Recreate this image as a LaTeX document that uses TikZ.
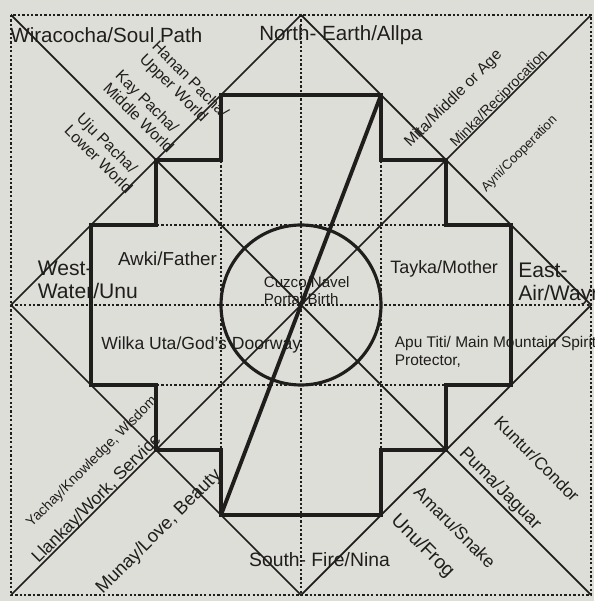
\documentclass[tikz,border=0pt]{standalone}
\usepackage{fontspec}
\setmainfont{Liberation Sans}
\definecolor{paper}{RGB}{222,222,217}
\definecolor{ink}{RGB}{32,30,28}

\begin{document}
\begin{tikzpicture}[
  dots/.style={draw=ink, line width=1.1pt, dash pattern=on 1.3pt off 1.2pt},
  fine/.style={draw=ink, line width=1.0pt},
  heavy/.style={draw=ink, line width=2.2pt, line join=miter},
  lbl/.style={text=ink, inner sep=0pt, align=left}]

\fill[paper] (-6.02,-5.92) rectangle (5.86,6.10);
\useasboundingbox (-6.02,-5.92) rectangle (5.86,6.10);

% ---- frame, diamond and the lines through the centre ---------------------------
\coordinate (nw) at (-5.8,5.8);
\coordinate (ne) at (5.8,5.8);
\coordinate (se) at (5.8,-5.8);
\coordinate (sw) at (-5.8,-5.8);
\coordinate (n) at (0,5.8);
\coordinate (s) at (0,-5.8);
\coordinate (w) at (-5.8,0);
\coordinate (e) at (5.8,0);
\coordinate (o) at (0,0);

\draw[dots] (nw) rectangle (se);
\draw[dots] (n) -- (s);
\draw[dots] (w) -- (e);
\draw[fine] (nw) -- (se);
\draw[fine] (ne) -- (sw);
\draw[fine] (n) -- (e) -- (s) -- (w) -- cycle;

% ---- the stepped cross ----------------------------------------------------------
\draw[dots] (-1.6,4.2) -- (-1.6,-4.2);
\draw[dots] (1.6,4.2) -- (1.6,-4.2);
\draw[dots] (-4.2,1.6) -- (4.2,1.6);
\draw[dots] (-4.2,-1.6) -- (4.2,-1.6);

\draw[heavy] (-1.6,4.2) -- (1.6,4.2) -- (1.6,2.9) -- (2.9,2.9) -- (2.9,1.6)
  -- (4.2,1.6) -- (4.2,-1.6) -- (2.9,-1.6) -- (2.9,-2.9) -- (1.6,-2.9)
  -- (1.6,-4.2) -- (-1.6,-4.2) -- (-1.6,-2.9) -- (-2.9,-2.9) -- (-2.9,-1.6)
  -- (-4.2,-1.6) -- (-4.2,1.6) -- (-2.9,1.6) -- (-2.9,2.9) -- (-1.6,2.9) -- cycle;

\coordinate (toptip) at (1.6,4.2);
\coordinate (bottip) at (-1.6,-4.2);
\draw[heavy, line width=1.8pt] (o) circle (1.6);
\draw[heavy] (toptip) -- (bottip);

% ---- the four directions --------------------------------------------------------
\node[lbl, anchor=west, font=\fontsize{11.7}{13}\selectfont] (wiracocha) at (-5.82,5.4) {Wiracocha/Soul Path};
\node[lbl, font=\fontsize{11.7}{13}\selectfont] (north) at (0.8,5.4) {North- Earth/Allpa};
\node[lbl, anchor=west, font=\fontsize{12}{13}\selectfont] (west) at (-5.27,0.5) {West-\\Water/Unu};
\node[lbl, anchor=west, font=\fontsize{12}{13}\selectfont] (east) at (4.34,0.42) {East-\\Air/Wayra};
\node[lbl, font=\fontsize{11}{12}\selectfont] (south) at (0.37,-5.1) {South- Fire/Nina};

% ---- inside the cross -----------------------------------------------------------
\node[lbl, font=\fontsize{10.7}{12}\selectfont] (awki) at (-2.67,0.93) {Awki/Father};
\node[lbl, anchor=west, font=\fontsize{10}{11}\selectfont] (wilka) at (-4.0,-0.8) {Wilka Uta/God's Doorway};
\node[lbl, anchor=west, font=\fontsize{10.2}{11}\selectfont] (tayka) at (1.78,0.72) {Tayka/Mother};
\node[lbl, anchor=west, font=\fontsize{8.8}{10.2}\selectfont] (apu) at (1.87,-0.93) {Apu Titi/ Main Mountain Spirit\\Protector,};
\node[lbl, anchor=west, font=\fontsize{8.6}{9.6}\selectfont] (cuzco) at (-0.75,0.28) {Cuzco/Navel\\Portal/Birth};

% ---- corner labels --------------------------------------------------------------
\node[lbl, rotate=-45, font=\fontsize{9}{10}\selectfont] (hanan) at (-2.35,4.37) {Hanan Pacha/\\Upper World};
\node[lbl, rotate=-45, font=\fontsize{9}{10}\selectfont] (kay) at (-3.12,3.87) {Kay Pacha/\\Middle World};
\node[lbl, rotate=-45, font=\fontsize{9}{10}\selectfont] (uju) at (-3.92,3.04) {Uju Pacha/\\Lower World};

\node[lbl, rotate=45, font=\fontsize{8.9}{10}\selectfont] (mita) at (3.05,4.12) {Mita/Middle or Age};
\node[lbl, rotate=45, font=\fontsize{8.2}{9}\selectfont] (minka) at (3.97,4.12) {Minka/Reciprocation};
\node[lbl, rotate=45, font=\fontsize{7.5}{9}\selectfont] (ayni) at (4.37,3.02) {Ayni/Cooperation};

\node[lbl, rotate=45, font=\fontsize{8}{9}\selectfont] (yachay) at (-4.18,-3.14) {Yachay/Knowledge, Wisdom};
\node[lbl, rotate=45, font=\fontsize{10}{11}\selectfont] (llankay) at (-4.08,-3.88) {Llankay/Work, Service};
\node[lbl, rotate=45, font=\fontsize{10.5}{11}\selectfont] (munay) at (-2.84,-4.54) {Munay/Love, Beauty};

\node[lbl, rotate=-45, font=\fontsize{9.8}{11}\selectfont] (kuntur) at (4.72,-3.08) {Kuntur/Condor};
\node[lbl, rotate=-45, font=\fontsize{10.3}{11}\selectfont] (puma) at (3.98,-3.68) {Puma/Jaguar};
\node[lbl, rotate=-45, font=\fontsize{10}{11}\selectfont] (amaru) at (3.08,-4.44) {Amaru/Snake};
\node[lbl, rotate=-45, font=\fontsize{11}{12}\selectfont] (unu) at (2.43,-4.83) {Unu/Frog};

\end{tikzpicture}
\end{document}
